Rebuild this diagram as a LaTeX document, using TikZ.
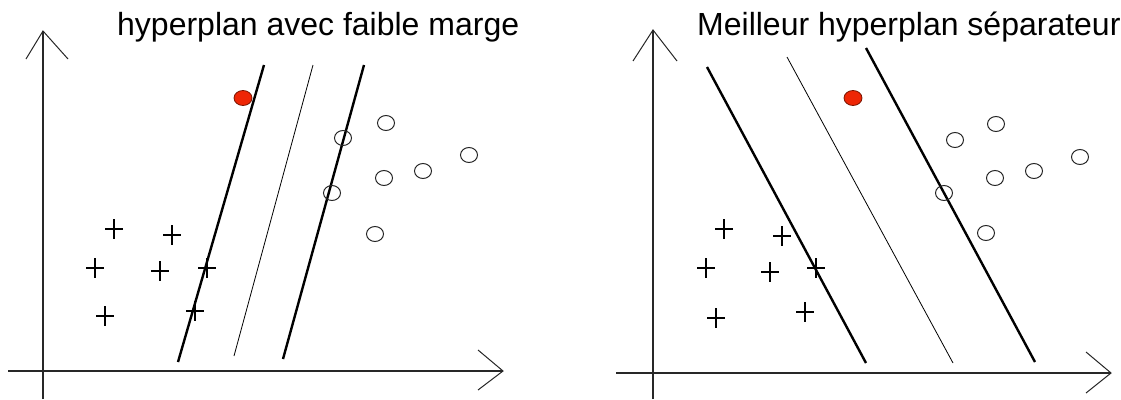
\documentclass[tikz,border=0pt]{standalone}
\usepackage{fontspec}
\setmainfont{Liberation Sans}
\usetikzlibrary{shapes.geometric}
\definecolor{axisgray}{RGB}{40,40,40}
\definecolor{dotred}{RGB}{238,38,5}
\definecolor{dotedge}{RGB}{120,20,0}
\tikzset{
  axisline/.style={draw=axisgray,line width=1.6pt},
  wing/.style={draw=black!85,line width=1pt},
  thickline/.style={draw=black,line width=2.4pt},
  thinline/.style={draw=black,line width=0.8pt},
  opencirc/.style={ellipse,draw=black!85,line width=1pt,minimum width=17pt,minimum height=15pt,inner sep=0pt},
  reddot/.style={ellipse,draw=dotedge,fill=dotred,line width=0.8pt,minimum width=18pt,minimum height=15pt,inner sep=0pt},
  titletext/.style={font=\fontsize{32pt}{36pt}\selectfont,inner sep=0pt,anchor=base west},
  plus/.pic={\draw[black,line width=1.3pt] (-9,0)--(9,0) (0,-10)--(0,10);}
}
\begin{document}
\begin{tikzpicture}[x=1pt,y=-1pt]
\useasboundingbox (0,0) rectangle (1121,399);
% ---------- left panel ----------
\coordinate (ly0) at (43,399); \coordinate (lytip) at (43,31);
\coordinate (lyw1) at (26,59); \coordinate (lyw2) at (68,59);
\coordinate (lx0) at (8,371); \coordinate (lxtip) at (503,371);
\coordinate (lxw1) at (478,350); \coordinate (lxw2) at (478,390);
\draw[axisline] (ly0) -- (lytip);
\draw[axisline] (lx0) -- (lxtip);
\draw[wing] (lyw1) -- (lytip) -- (lyw2);
\draw[wing] (lxw1) -- (lxtip) -- (lxw2);
\node[titletext] (ltitle) at (117,35) {hyperplan avec faible marge};
\coordinate (la1) at (264,65); \coordinate (la2) at (178,362);
\coordinate (lb1) at (313,65); \coordinate (lb2) at (234,356);
\coordinate (lc1) at (364,65); \coordinate (lc2) at (283,359);
\draw[thickline] (la1) -- (la2);
\draw[thinline] (lb1) -- (lb2);
\draw[thickline] (lc1) -- (lc2);
\node[reddot] (lred) at (243,98) {};
\foreach \n/\p in {1/{(386,123)},2/{(343,138)},3/{(469,155)},4/{(423,171)},5/{(384,178)},6/{(332,193)},7/{(375,234)}}
  \node[opencirc] (lcirc\n) at \p {};
\foreach \p in {(114,229),(172,235),(95,268),(160,271),(207,268),(105,316),(195,311)}
  \pic at \p {plus};
% ---------- right panel ----------
\coordinate (ry0) at (653,399); \coordinate (rytip) at (653,30);
\coordinate (ryw1) at (633,61); \coordinate (ryw2) at (677,61);
\coordinate (rx0) at (616,373); \coordinate (rxtip) at (1111,373);
\coordinate (rxw1) at (1086,352); \coordinate (rxw2) at (1086,393);
\draw[axisline] (ry0) -- (rytip);
\draw[axisline] (rx0) -- (rxtip);
\draw[wing] (ryw1) -- (rytip) -- (ryw2);
\draw[wing] (rxw1) -- (rxtip) -- (rxw2);
\node[titletext] (rtitle) at (697,35) {Meilleur hyperplan séparateur};
\coordinate (ra1) at (707,67); \coordinate (ra2) at (866,363);
\coordinate (rb1) at (787,57); \coordinate (rb2) at (953,363);
\coordinate (rc1) at (866,48); \coordinate (rc2) at (1035,362);
\draw[thickline] (ra1) -- (ra2);
\draw[thinline] (rb1) -- (rb2);
\draw[thickline] (rc1) -- (rc2);
\node[reddot] (rred) at (853,98) {};
\foreach \n/\p in {1/{(996,124)},2/{(955,140)},3/{(1080,157)},4/{(1034,171)},5/{(995,178)},6/{(944,193)},7/{(986,233)}}
  \node[opencirc] (rcirc\n) at \p {};
\foreach \p in {(724,229),(782,236),(706,268),(770,272),(816,268),(716,318),(805,312)}
  \pic at \p {plus};
\end{tikzpicture}
\end{document}
